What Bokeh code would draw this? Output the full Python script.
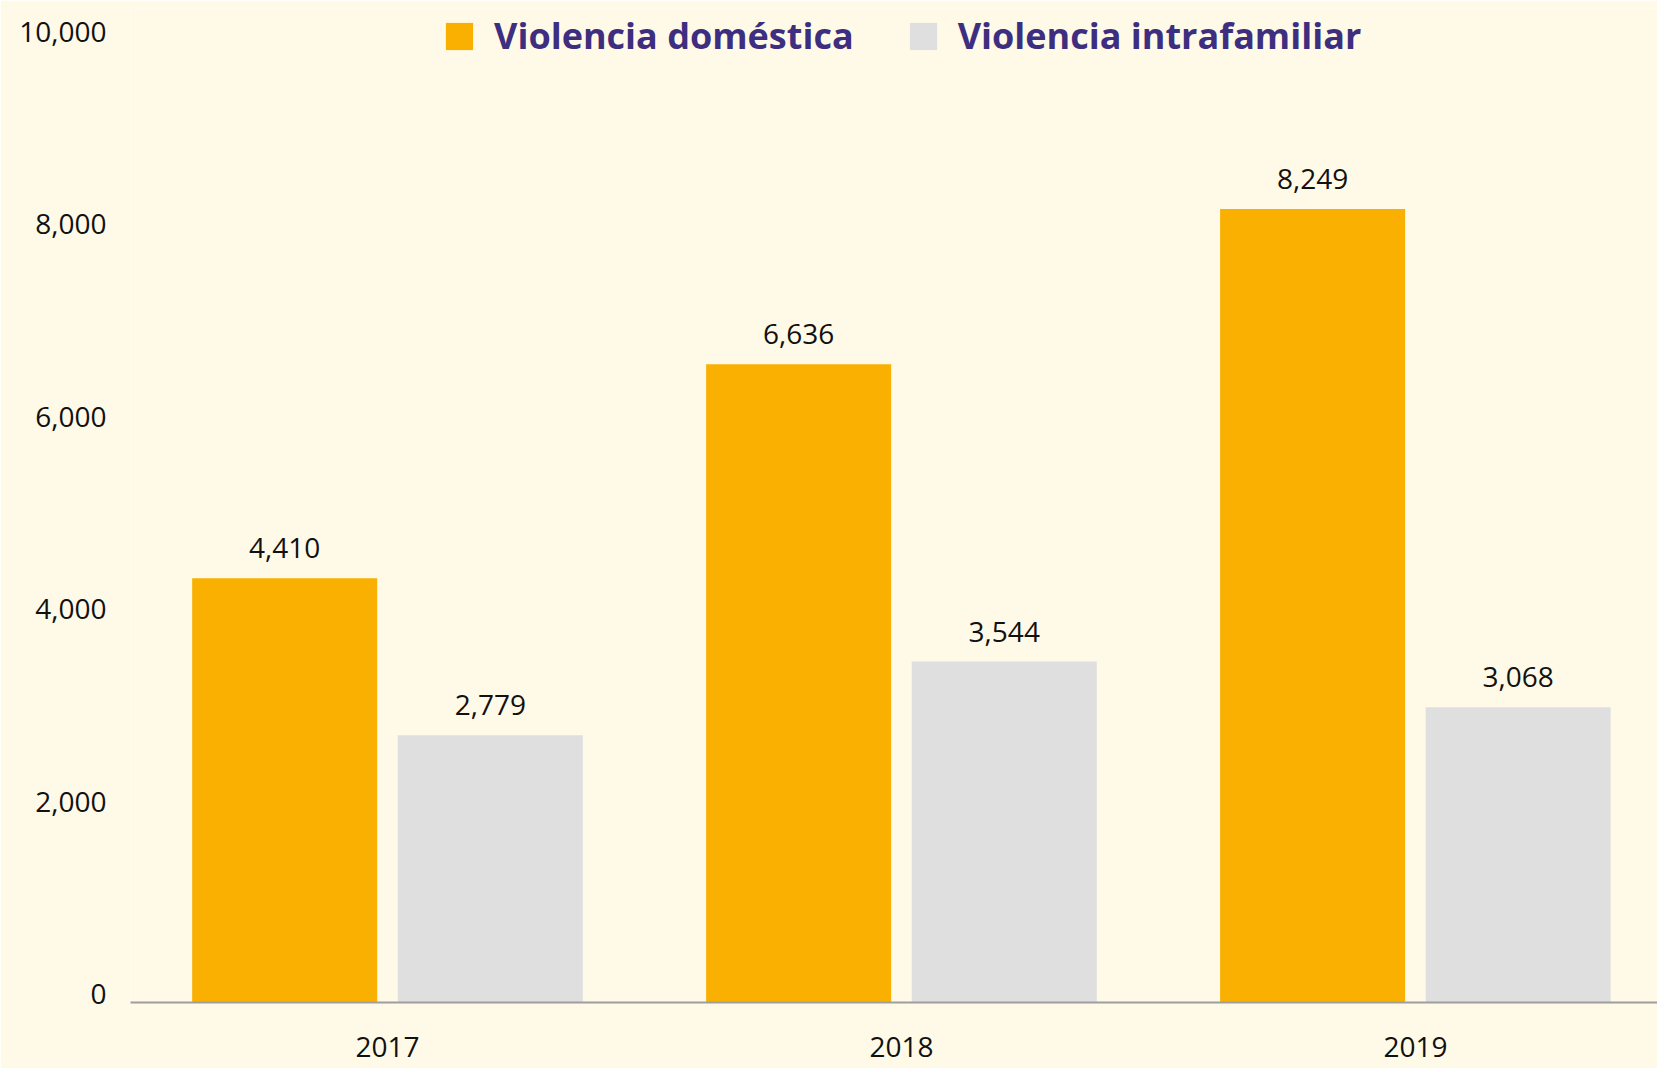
from bokeh.plotting import figure
from bokeh.models import ColumnDataSource, Range1d, FixedTicker, Legend, LegendItem
from bokeh.transform import dodge
from bokeh.core.properties import value
from bokeh.embed import file_html
from bokeh.resources import INLINE

years = ["2017", "2018", "2019"]
domestica = [4410, 6636, 8249]
intrafamiliar = [2779, 3544, 3068]
y_ticks = [0, 2000, 4000, 6000, 8000, 10000]
series_names = ["Violencia doméstica", "Violencia intrafamiliar"]

BG = "#FFFAE7"
ORANGE = "#F9B000"
GRAY = "#DFDFDF"
PURPLE = "#3D2E80"
FONT = "Open Sans"

idx = list(range(len(years)))
src = ColumnDataSource(dict(
    x=idx,
    dom=domestica,
    intra=intrafamiliar,
    dom_lbl=[f"{v:,}" for v in domestica],
    intra_lbl=[f"{v:,}" for v in intrafamiliar],
))

p = figure(
    frame_width=1527, frame_height=994,
    x_range=Range1d(-0.5, 2.471), y_range=Range1d(0, 10333),
    output_backend="svg", toolbar_location=None,
    min_border_left=130, min_border_top=8, min_border_right=0, min_border_bottom=66,
    background_fill_color=BG, border_fill_color=BG,
)
p.outline_line_color = None
p.grid.visible = False

r1 = p.vbar(x=dodge("x", -0.2), top="dom", width=0.36, source=src,
            fill_color=ORANGE, line_color=None)
r2 = p.vbar(x=dodge("x", 0.2), top="intra", width=0.36, source=src,
            fill_color=GRAY, line_color=None)

for xoff, col in [(-0.2, "dom"), (0.2, "intra")]:
    p.text(x=dodge("x", xoff), y=col, text=col + "_lbl", source=src,
           text_align="center", text_baseline="alphabetic", y_offset=-30,
           text_font=value(FONT), text_font_size="28px", text_color="#111111")

# y axis (labels sit slightly above their tick, as in the original)
ya = p.yaxis[0]
ya.ticker = FixedTicker(ticks=y_ticks)
ya.major_label_overrides = {t: f"{t:,}\n" for t in y_ticks}
ya.major_label_text_line_height = 0.5
ya.axis_line_color = None
ya.major_tick_line_color = None
ya.minor_tick_line_color = None
ya.major_label_standoff = 18
ya.major_label_text_font = FONT
ya.major_label_text_font_size = "28px"
ya.major_label_text_color = "#111111"

# x axis
xa = p.xaxis[0]
xa.ticker = FixedTicker(ticks=idx)
xa.major_label_overrides = {i: y for i, y in zip(idx, years)}
xa.axis_line_color = "#9E9E9E"
xa.axis_line_width = 2
xa.major_tick_line_color = None
xa.minor_tick_line_color = None
xa.major_label_standoff = 28
xa.major_label_text_font = FONT
xa.major_label_text_font_size = "28px"
xa.major_label_text_color = "#111111"

legend = Legend(
    items=[LegendItem(label=series_names[0], renderers=[r1]),
           LegendItem(label=series_names[1], renderers=[r2])],
    orientation="horizontal", location=(312, 942),
    glyph_width=34, glyph_height=34, label_standoff=18, spacing=52,
    label_text_font=FONT, label_text_font_size="36px", label_text_font_style="bold",
    label_text_color=PURPLE, background_fill_alpha=0, border_line_color=None,
    padding=0, margin=0, label_height=34,
)
p.add_layout(legend, "center")

open("out.html", "w").write(file_html(p, INLINE))
